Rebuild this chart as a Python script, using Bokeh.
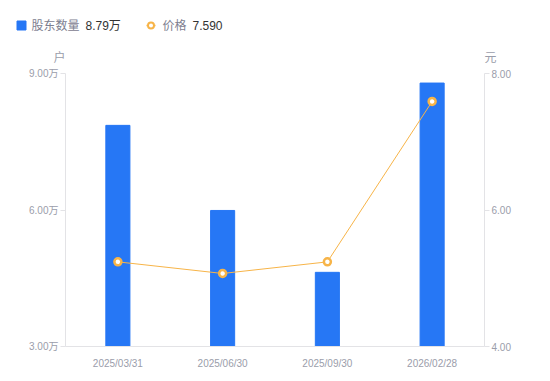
from bokeh.plotting import figure
from bokeh.layouts import column
from bokeh.models import Range1d, LinearAxis, FixedTicker, FactorRange
from bokeh.core.properties import value
from bokeh.embed import file_html
from bokeh.resources import INLINE

dates = ["2025/03/31", "2025/06/30", "2025/09/30", "2026/02/28"]
holders = [7.86, 5.99, 4.63, 8.79]  # 万户
price = [5.24, 5.07, 5.24, 7.59]   # 元
legend_names = ["股东数量", "价格"]
legend_values = ["8.79万", "7.590"]
units = ["户", "元"]

FONT = "Liberation Sans, Noto Sans CJK SC"
GRAY = "#9a9daa"
LEG_GRAY = "#7d8090"
AXIS = "#e3e3e6"
BLUE = "#2677f5"
ORANGE = "#f7b448"

# ---- header strip (legend + unit captions), pixel-based coordinates ----
TOP_H = 63
top = figure(width=550, height=TOP_H, x_range=Range1d(0, 550), y_range=Range1d(TOP_H, 0),
             x_axis_type=None, y_axis_type=None, output_backend="svg", toolbar_location=None,
             min_border=0, frame_align=False)
top.outline_line_color = None
top.grid.visible = False
top.scatter(x=[21], y=[25], marker="square", size=9, color=BLUE)
top.line(x=[146, 155], y=[25, 25], line_color=ORANGE, line_width=1.5)
top.scatter(x=[150.5], y=[25], size=6, fill_color="white", line_color=ORANGE, line_width=2)
top.text(x=[31, 162], y=[25, 25], text=legend_names, text_color=LEG_GRAY,
         text_font=value(FONT), text_font_size="12px", text_baseline="middle")
top.text(x=[85, 192], y=[25, 25], text=legend_values, text_color="#333333",
         text_font=value(FONT), text_font_size="12px", text_baseline="middle")
top.text(x=[59, 490], y=[57, 57], text=units, text_color=GRAY,
         text_font=value(FONT), text_font_size="12px", text_baseline="middle", text_align="center")

# ---- main chart ----
p = figure(width=550, height=381 - TOP_H, x_range=FactorRange(*dates), y_range=Range1d(3, 9),
           output_backend="svg", toolbar_location=None, frame_align=False,
           min_border_left=65, min_border_right=66, min_border_top=73 - TOP_H, min_border_bottom=35)
p.outline_line_color = None
p.grid.visible = False
p.extra_y_ranges = {"price": Range1d(4, 8)}

p.vbar(x=dates, top=holders, bottom=3, width=0.23, color=BLUE)
p.line(x=dates, y=price, y_range_name="price", line_color=ORANGE, line_width=1)
p.scatter(x=dates, y=price, y_range_name="price", size=7, fill_color="white",
          line_color=ORANGE, line_width=2.5)

def style(ax):
    ax.axis_line_color = AXIS
    ax.major_tick_line_color = AXIS
    ax.major_tick_in = 0
    ax.major_tick_out = 5
    ax.minor_tick_line_color = None
    ax.major_label_text_color = GRAY
    ax.major_label_text_font = FONT
    ax.major_label_text_font_size = "10px"

ly = p.yaxis[0]
style(ly)
ly.ticker = FixedTicker(ticks=[3, 6, 9])
ly.major_label_overrides = {3: "3.00万", 6: "6.00万", 9: "9.00万"}
ly.major_label_standoff = 2

ry = LinearAxis(y_range_name="price")
style(ry)
ry.ticker = FixedTicker(ticks=[4, 6, 8])
ry.major_label_overrides = {4: "4.00", 6: "6.00", 8: "8.00"}
ry.major_label_standoff = 2
p.add_layout(ry, "right")

bx = p.xaxis[0]
style(bx)
bx.major_tick_line_color = None
bx.major_label_standoff = 6

layout = column(top, p, spacing=0)
open("out.html", "w").write(file_html(layout, INLINE))
